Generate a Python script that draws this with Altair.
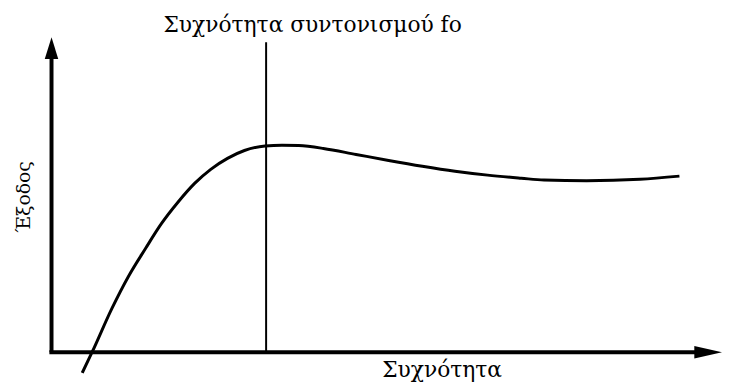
import altair as alt
import pandas as pd

# Curve: frequency relative to fo, output relative to peak
freq = [0.143, 0.189, 0.281, 0.359, 0.438, 0.512, 0.590, 0.668, 0.742, 0.820,
        0.899, 0.995, 1.074, 1.152, 1.267, 1.419, 1.571, 1.728, 1.880, 2.032,
        2.189, 2.295, 2.493, 2.742, 2.926]
output = [-0.100, 0.000, 0.211, 0.368, 0.502, 0.622, 0.727, 0.818, 0.885, 0.938,
          0.976, 0.998, 1.002, 1.000, 0.986, 0.957, 0.928, 0.900, 0.876, 0.857,
          0.842, 0.833, 0.830, 0.837, 0.852]

fo = [1.0]
title_text = ["Συχνότητα συντονισμού fo"]
x_label = ["Συχνότητα"]
y_label = ["Έξοδος"]

# axis extents (data units)
y_axis_top = [1.45]
y_arrow_pos = [1.471]
x_axis_end = [3.03]
x_arrow_pos = [3.06]
fo_line_top = [1.5]

X_DOMAIN = [-0.2028, 3.1244]
Y_DOMAIN = [-0.1388, 1.6555]
xs = alt.Scale(domain=X_DOMAIN, nice=False, zero=False)
ys = alt.Scale(domain=Y_DOMAIN, nice=False, zero=False)

FONT = "DejaVu Serif"


def X(field):
    return alt.X(field, type="quantitative", scale=xs, axis=None)


def Y(field):
    return alt.Y(field, type="quantitative", scale=ys, axis=None)


curve = alt.Chart(pd.DataFrame({"f": freq, "a": output})).mark_line(
    color="black", strokeWidth=3, interpolate="monotone", clip=False
).encode(x=X("f"), y=Y("a"))

y_axis = alt.Chart(pd.DataFrame({"f": [0.0], "a": [0.0], "a2": y_axis_top})).mark_rule(
    color="black", strokeWidth=4
).encode(x=X("f"), y=Y("a"), y2="a2:Q")

x_axis = alt.Chart(pd.DataFrame({"f": [-0.01], "f2": x_axis_end, "a": [0.0]})).mark_rule(
    color="black", strokeWidth=4
).encode(x=X("f"), x2="f2:Q", y=Y("a"))

fo_line = alt.Chart(pd.DataFrame({"f": fo, "a": [0.0], "a2": fo_line_top})).mark_rule(
    color="black", strokeWidth=2
).encode(x=X("f"), y=Y("a"), y2="a2:Q")

y_arrow = alt.Chart(pd.DataFrame({"f": [0.0], "a": y_arrow_pos})).mark_point(
    shape="M0,-1L0.62,1L-0.62,1Z", filled=True, color="black", opacity=1, size=484
).encode(x=X("f"), y=Y("a"))

x_arrow = alt.Chart(pd.DataFrame({"f": x_arrow_pos, "a": [0.0]})).mark_point(
    shape="M1,0L-1,-0.45L-1,0.45Z", filled=True, color="black", opacity=1, size=784
).encode(x=X("f"), y=Y("a"))

title = alt.Chart(pd.DataFrame({"f": [1.2166], "a": [1.55], "t": title_text})).mark_text(
    font=FONT, fontSize=22, align="center", baseline="alphabetic", color="black"
).encode(x=X("f"), y=Y("a"), text="t:N")

xlab = alt.Chart(pd.DataFrame({"f": [1.82], "a": [-0.1196], "t": x_label})).mark_text(
    font=FONT, fontSize=22, align="center", baseline="alphabetic", color="black"
).encode(x=X("f"), y=Y("a"), text="t:N")

ylab = alt.Chart(pd.DataFrame({"f": [-0.1014], "a": [0.751], "t": y_label})).mark_text(
    font=FONT, fontSize=19, align="center", baseline="alphabetic", angle=270, color="black"
).encode(x=X("f"), y=Y("a"), text="t:N")

chart = alt.layer(
    y_axis, x_axis, fo_line, curve, y_arrow, x_arrow, title, xlab, ylab
).properties(
    width=722, height=375, padding=0, autosize=alt.AutoSizeParams(type="none"),
    background="white"
).configure_view(stroke=None)

chart.save("out.html", embed_options={"renderer": "svg", "actions": False})
